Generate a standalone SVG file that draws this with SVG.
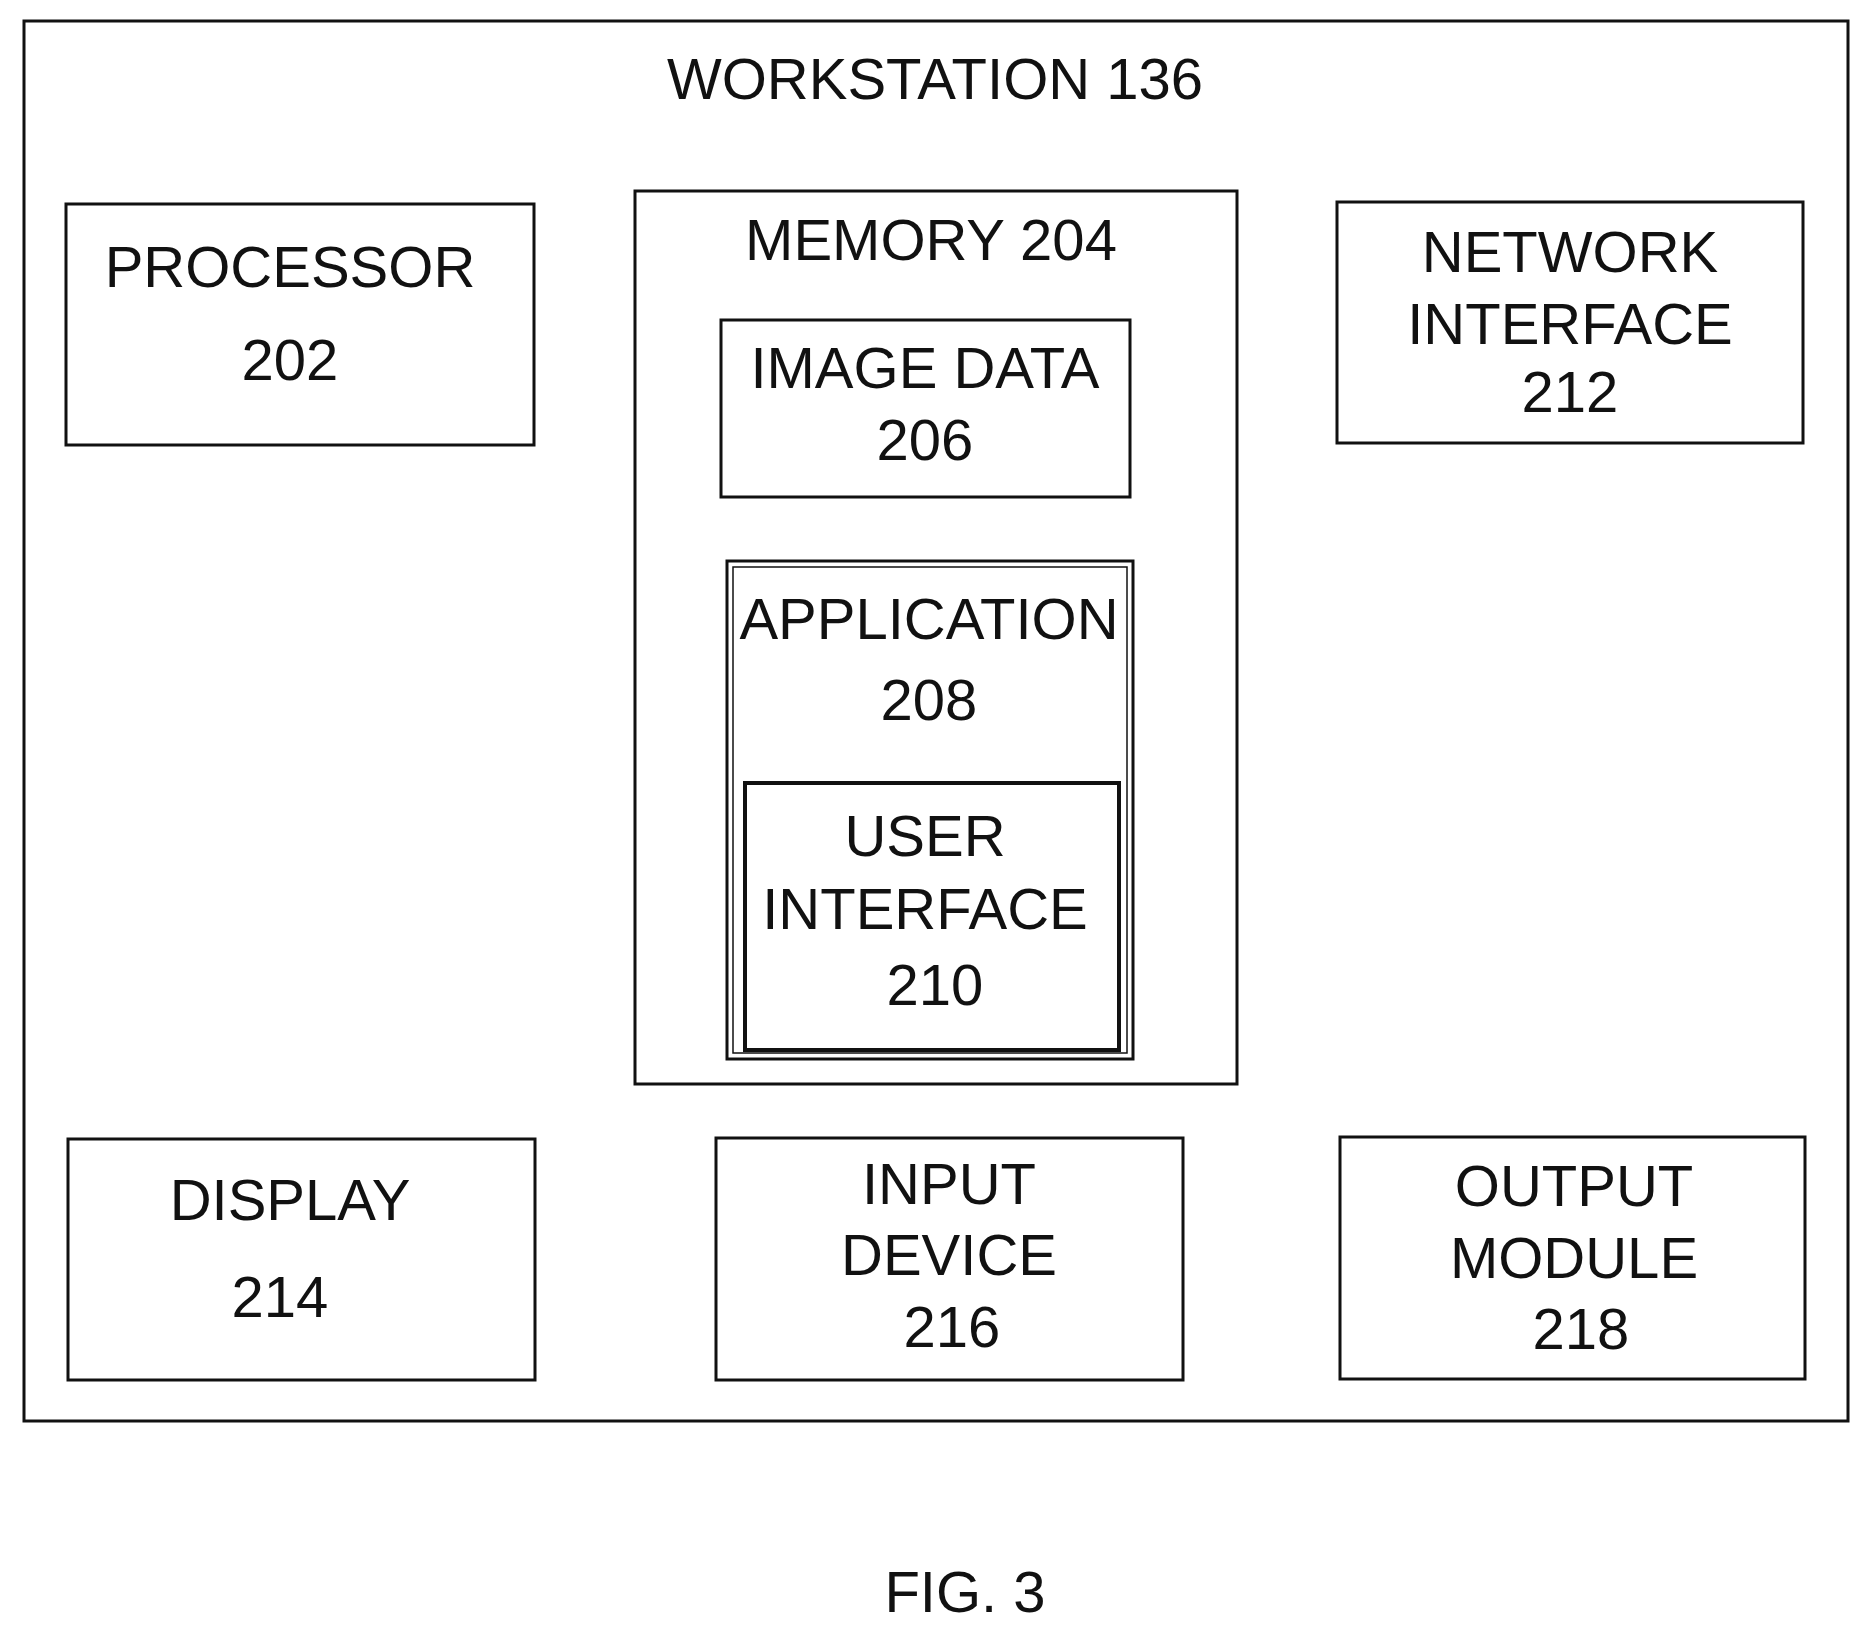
<svg xmlns="http://www.w3.org/2000/svg" width="1862" height="1627" viewBox="0 0 1862 1627">
<style>
rect{fill:none;stroke:#111;stroke-width:3}
text{font-family:"Liberation Sans",Arial,sans-serif;font-size:58px;text-anchor:middle;fill:#111}
</style>
<rect x="0" y="0" width="1862" height="1627" style="fill:#fff;stroke:none"/>
<g id="workstation"><rect x="24" y="21" width="1824" height="1400"/><text x="935" y="99" font-size="60">WORKSTATION 136</text></g>
<g id="processor"><rect x="66" y="204" width="468" height="241"/><text x="290" y="287">PROCESSOR</text><text x="290" y="380">202</text></g>
<g id="memory"><rect x="635" y="191" width="602" height="893"/><text x="931" y="260">MEMORY  204</text></g>
<g id="imagedata"><rect x="721" y="320" width="409" height="177"/><text x="925" y="388">IMAGE DATA</text><text x="925" y="460">206</text></g>
<g id="application"><rect x="727" y="561" width="406" height="498"/><rect x="733" y="567" width="394" height="486" style="stroke-width:1.5"/><text x="929" y="639">APPLICATION</text><text x="929" y="720">208</text></g>
<g id="ui"><rect x="745" y="783" width="374" height="267" style="stroke-width:4"/><text x="925" y="856">USER</text><text x="925" y="929">INTERFACE</text><text x="935" y="1005">210</text></g>
<g id="network"><rect x="1337" y="202" width="466" height="241"/><text x="1570" y="272">NETWORK</text><text x="1570" y="344">INTERFACE</text><text x="1570" y="412">212</text></g>
<g id="display"><rect x="68" y="1139" width="467" height="241"/><text x="290" y="1220">DISPLAY</text><text x="280" y="1317">214</text></g>
<g id="input"><rect x="716" y="1138" width="467" height="242"/><text x="949" y="1204">INPUT</text><text x="949" y="1275">DEVICE</text><text x="952" y="1347">216</text></g>
<g id="output"><rect x="1340" y="1137" width="465" height="242"/><text x="1574" y="1206">OUTPUT</text><text x="1574" y="1278">MODULE</text><text x="1581" y="1349">218</text></g>
<g id="connectors"></g>
<text x="965" y="1612" font-size="95">FIG. 3</text>
</svg>
